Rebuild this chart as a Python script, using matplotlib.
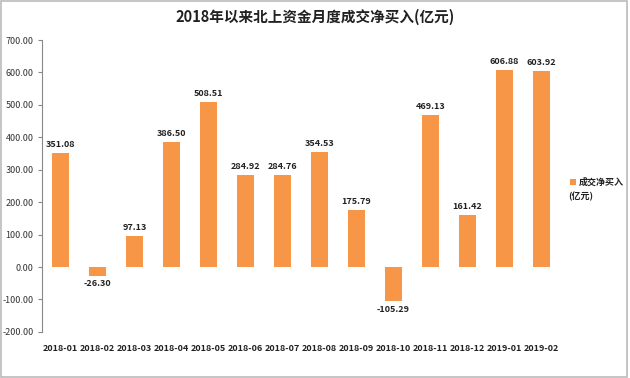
import matplotlib
matplotlib.use("Agg")
import matplotlib.pyplot as plt
from matplotlib.patches import Rectangle

plt.rcParams['font.family'] = ['Noto Sans CJK SC', 'DejaVu Sans']

months = ["2018-01", "2018-02", "2018-03", "2018-04", "2018-05", "2018-06", "2018-07",
          "2018-08", "2018-09", "2018-10", "2018-11", "2018-12", "2019-01", "2019-02"]
values = [351.08, -26.30, 97.13, 386.50, 508.51, 284.92, 284.76,
          354.53, 175.79, -105.29, 469.13, 161.42, 606.88, 603.92]
yticks = [-200, -100, 0, 100, 200, 300, 400, 500, 600, 700]
series_name = "成交净买入\n(亿元)"
title = "2018年以来北上资金月度成交净买入(亿元)"
color = "#F79646"

fig = plt.figure(figsize=(6.3, 3.78), dpi=100)
ax = fig.add_axes([0.0667, 0.122, 0.822, 0.772])

x = list(range(len(months)))
ax.bar(x, values, width=0.44, color=color)
for xi, v in zip(x, values):
    if v >= 0:
        ax.text(xi, v + 12, f"{v:.2f}", ha="center", va="bottom", fontsize=6.5, fontweight="bold", color="#222222")
    else:
        ax.text(xi, v - 12, f"{v:.2f}", ha="center", va="top", fontsize=6.5, fontweight="bold", color="#222222")

ax.set_xlim(-0.5, len(months) - 0.5)
ax.set_ylim(-200, 700)
ax.set_yticks(yticks)
ax.set_yticklabels([f"{t:.2f}" for t in yticks], fontsize=6.5, color="#333333")
ax.set_xticks(x)
ax.set_xticklabels(months, fontsize=6.5, fontweight="bold", color="#222222")
ax.tick_params(axis="x", length=0, pad=9)
ax.tick_params(axis="y", length=3, color="#888888", pad=3)
for s in ["top", "right", "bottom"]:
    ax.spines[s].set_visible(False)
ax.spines["left"].set_color("#888888")
ax.spines["left"].set_linewidth(0.8)

fig.text(0.5, 0.955, title, ha="center", va="center", fontsize=10.5, fontweight="bold", color="#222222")

# legend
fig.patches.append(Rectangle((570 / 630, 1 - 185 / 378), 6 / 630, 6 / 378, transform=fig.transFigure,
                             facecolor=color, edgecolor="none"))
fig.text(579 / 630, 1 - 182 / 378, "成交净买入", ha="left", va="center", fontsize=6.5, fontweight="bold", color="#222222")
fig.text(568 / 630, 1 - 196 / 378, "(亿元)", ha="left", va="center", fontsize=6.5, fontweight="bold", color="#222222")

# border
fig.patches.append(Rectangle((0.002, 0.003), 0.994, 0.994, transform=fig.transFigure,
                             facecolor="none", edgecolor="#BBBBBB", linewidth=1.2))

fig.savefig("out.png", dpi=100)
